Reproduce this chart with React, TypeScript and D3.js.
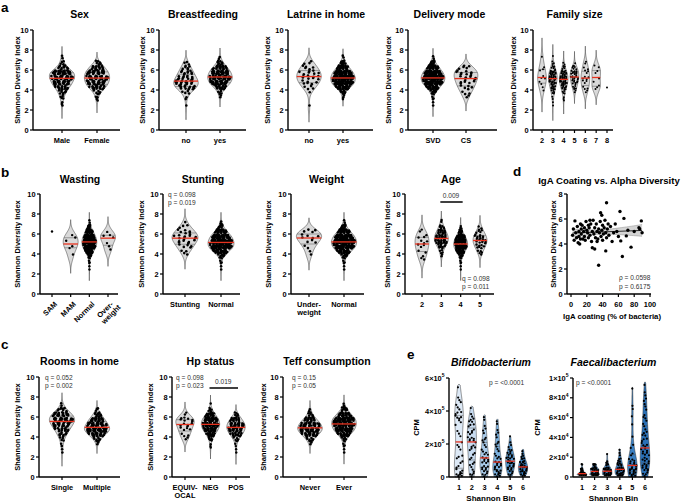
import React from "react";
import * as d3 from "d3";

const FONT = "'Liberation Sans', Arial, Helvetica, sans-serif";
const RED = "#e8321e";
const GRAY = "#d9d9d9";

// ---- diversity data: counts of samples per 0.5-wide Shannon bin, starting at 0 ----
const sexCats = ["Male", "Female"];
const sexMale = [0, 0, 0, 0, 1, 2, 4, 8, 16, 24, 28, 30, 10, 4, 2];
const sexFemale = [0, 0, 0, 0, 0, 1, 3, 6, 18, 24, 26, 24, 16, 6];

const bfCats = ["no", "yes"];
const bfNo = [0, 0, 0, 0, 1, 0, 2, 4, 14, 16, 12, 9, 6, 3];
const bfYes = [0, 0, 0, 0, 0, 0, 2, 5, 16, 30, 34, 30, 20, 8, 2];

const latCats = ["no", "yes"];
const latNo = [0, 0, 0, 0, 1, 0, 0, 1, 4, 6, 8, 7, 5, 3];
const latYes = [0, 0, 0, 0, 0, 0, 3, 8, 28, 46, 48, 40, 24, 10, 2];

const delCats = ["SVD", "CS"];
const delSVD = [0, 0, 0, 0, 1, 1, 3, 8, 26, 44, 48, 40, 24, 9, 2];
const delCS = [0, 0, 0, 0, 0, 0, 2, 3, 5, 6, 7, 8, 5];

const famCats = ["2", "3", "4", "5", "6", "7", "8"];
const fam2 = [0, 0, 0, 0, 0, 0, 0, 1, 1, 2, 3, 1, 2, 0, 1];
const fam3 = [0, 0, 0, 0, 1, 1, 2, 5, 10, 12, 16, 14, 6, 3, 1];
const fam4 = [0, 0, 0, 0, 0, 1, 2, 4, 10, 14, 16, 12, 5, 2];
const fam5 = [0, 0, 0, 0, 0, 0, 0, 2, 5, 8, 10, 10, 6, 1];
const fam6 = [0, 0, 0, 0, 0, 0, 0, 2, 3, 3, 4, 3, 2, 2];
const fam7 = [0, 0, 0, 0, 0, 0, 0, 0, 3, 1, 1, 2, 2];
const fam8 = [0, 0, 0, 0, 0, 0, 0, 0, 1];

const wasCats = [["SAM"], ["MAM"], ["Normal"], ["Over-", "weight"]];
const wasSAM = [0, 0, 0, 0, 0, 0, 0, 0, 0, 0, 0, 0, 1];
const wasMAM = [0, 0, 0, 0, 0, 0, 0, 1, 0, 2, 1, 2];
const wasNormal = [0, 0, 0, 0, 1, 1, 3, 8, 26, 44, 48, 40, 24, 9, 2];
const wasOver = [0, 0, 0, 0, 0, 0, 0, 0, 1, 1, 1, 3, 1];

const stuCats = ["Stunting", "Normal"];
const stuStunting = [0, 0, 0, 0, 0, 0, 0, 1, 3, 5, 7, 9, 6, 3, 1];
const stuNormal = [0, 0, 0, 0, 1, 1, 3, 8, 28, 46, 46, 38, 22, 8, 2];

const wtCats = [["Under-", "weight"], ["Normal"]];
const wtUnder = [0, 0, 0, 0, 0, 0, 0, 1, 1, 2, 3, 5, 4];
const wtNormal = [0, 0, 0, 0, 1, 1, 3, 8, 26, 44, 48, 40, 24, 9, 2];

const ageCats = ["2", "3", "4", "5"];
const age2 = [0, 0, 0, 0, 0, 0, 1, 2, 2, 3, 3, 3, 2];
const age3 = [0, 0, 0, 0, 0, 0, 0, 2, 4, 10, 18, 18, 12, 6, 2];
const age4 = [0, 0, 0, 0, 1, 1, 3, 8, 24, 40, 38, 26, 10, 3];
const age5 = [0, 0, 0, 0, 0, 0, 0, 1, 4, 7, 10, 9, 5, 2];

const roomCats = ["Single", "Multiple"];
const roomSingle = [0, 0, 0, 0, 1, 1, 2, 4, 8, 14, 20, 26, 20, 8, 2];
const roomMultiple = [0, 0, 0, 0, 0, 0, 2, 8, 22, 34, 28, 20, 10, 3];

const hpCats = [["EQUIV-", "OCAL"], ["NEG"], ["POS"]];
const hpEquiv = [0, 0, 0, 0, 0, 0, 0, 2, 3, 4, 5, 7, 2];
const hpNeg = [0, 0, 0, 0, 0, 1, 2, 6, 16, 30, 36, 32, 18, 6, 1];
const hpPos = [0, 0, 0, 0, 1, 1, 2, 6, 16, 24, 24, 16, 6];

const teffCats = ["Never", "Ever"];
const teffNever = [0, 0, 0, 0, 0, 0, 2, 8, 20, 30, 26, 16, 6, 2];
const teffEver = [0, 0, 0, 0, 1, 1, 3, 6, 20, 36, 40, 40, 24, 10, 2];

// ---- panel e: counts per CPM bin (Bifidobacterium 25k wide, Faecalibacterium 5k wide) ----
const binCats = ["1", "2", "3", "4", "5", "6"];
const bifido1 = [7, 3, 2, 2, 2, 1, 1, 2, 1, 1, 1, 1, 1, 2, 4, 3, 2, 1, 2, 1, 0, 1];
const bifido2 = [4, 2, 2, 2, 2, 2, 2, 3, 3, 4, 3, 2, 3, 3, 2, 1, 1];
const bifido3 = [4, 4, 4, 4, 4, 3, 2, 2, 2, 2, 1, 2, 1, 1, 1];
const bifido4 = [6, 5, 5, 4, 3, 2, 2, 2, 2, 1, 2, 1, 1, 1];
const bifido5 = [4, 4, 5, 6, 6, 4, 3, 2, 1, 1];
const bifido6 = [6, 7, 8, 6, 3, 2, 1];
const faecali1 = [22, 6, 2];
const faecali2 = [14, 12, 5];
const faecali3 = [14, 12, 4, 1, 1];
const faecali4 = [12, 12, 6, 4, 2, 1];
const faecali5 = [8, 8, 6, 4, 2, 1, 1, 0, 1, 0, 1, 0, 1, 1, 1, 0, 0, 1];
const faecali6 = [4, 5, 5, 5, 4, 4, 4, 3, 3, 2, 2, 2, 2, 1, 2, 2, 1, 1, 1];
const bifidoFills = ["#dde9f6", "#c7dbf0", "#a9cbea", "#7cb2e0", "#5b9cd4", "#3f87c8"];
const faecaliFills = ["#4a8fcf", "#4a8fcf", "#468bcc", "#3f86c8", "#3a80c3", "#2a70b6"];

// ---- panel d: IgA coating vs Shannon ----
const igaCoating = [2, 3, 4, 5, 6, 7, 8, 9, 10, 10, 11, 12, 13, 13, 14, 15, 16, 17, 17, 18, 19, 20, 21, 22, 22, 23, 24, 25, 26, 27, 27, 28, 29, 30, 30, 31, 32, 33, 34, 35, 35, 36, 37, 37.5, 38, 39, 39, 40, 40, 41, 42, 43, 44, 44, 45, 46, 47, 48, 50, 52, 54, 56, 58, 60, 62, 63, 65, 67, 70, 72, 76, 80, 86, 87, 89, 90, 12, 24, 33, 45];
const igaShannon = [4.7, 5.2, 4.3, 5.85, 4.9, 4.5, 5.4, 4.1, 4.6, 5.0, 4.0, 5.6, 5.2, 4.8, 5.5, 4.4, 5.0, 5.3, 4.6, 4.3, 5.8, 5.1, 4.9, 5.5, 4.5, 5.3, 4.7, 5.6, 4.2, 3.7, 5.0, 5.9, 4.8, 3.6, 5.3, 4.5, 5.6, 5.0, 4.4, 2.3, 5.2, 4.9, 5.8, 6.5, 4.6, 6.3, 5.1, 4.3, 5.5, 4.8, 5.3, 5.9, 3.45, 4.9, 7.3, 5.2, 5.6, 4.7, 5.4, 4.2, 4.9, 5.6, 5.0, 4.6, 6.6, 4.25, 3.0, 6.05, 4.65, 5.1, 3.75, 5.0, 5.3, 5.2, 5.85, 4.9, 4.4, 5.9, 4.2, 4.5];

// violin outline from a gaussian KDE over the binned counts
function geom(counts: number[], binW: number, ext: number, yMax: number) {
  const n = d3.sum(counts);
  const mids = counts.map((_, i) => (i + 0.5) * binW);
  const mean = d3.sum(counts, (c, i) => c * mids[i]) / n;
  const sd = Math.sqrt(d3.sum(counts, (c, i) => c * (mids[i] - mean) ** 2) / Math.max(1, n - 1));
  const bw = 1.06 * sd * Math.pow(n, -0.2);
  const used = counts.map((c, i) => (c > 0 ? i : -1)).filter((i) => i >= 0);
  const lo = Math.max(0, mids[used[0]] - ext * bw);
  const hi = Math.min(yMax, mids[used[used.length - 1]] + ext * bw);
  const dens = (v: number) => d3.sum(counts, (c, i) => c * Math.exp(-0.5 * ((v - mids[i]) / bw) ** 2));
  const grid = d3.range(81).map((k) => lo + ((hi - lo) * k) / 80);
  const dmax = d3.max(grid, dens) || 1;
  const width = (v: number) => (n < 2 || v < lo || v > hi ? 0 : dens(v) / dmax);
  const outline = grid.map((v, k) => [v, (k === 0 && lo > 0) || (k === 80 && hi < yMax) ? 0 : width(v)]);
  return { n, lo, hi, width, outline };
}

function quant(counts: number[], p: number, binW: number) {
  const t = p * d3.sum(counts);
  let cum = 0;
  for (let i = 0; i < counts.length; i++) {
    if (counts[i] > 0 && cum + counts[i] >= t) return (i + (t - cum) / counts[i]) * binW;
    cum += counts[i];
  }
  return 0;
}

const sci = (v: number) => {
  if (v === 0) return "0";
  const e = Math.floor(Math.log10(v) + 1e-9);
  const m = Math.round(v / 10 ** e);
  return (
    <>
      <tspan>{m}×10</tspan>
      <tspan dy={-3.2} fontSize={5}>{e}</tspan>
    </>
  );
};

function ViolinPlot({ c }: any) {
  const y = d3.scaleLinear().domain([0, c.yMax]).range([c.yBottom, c.yTop]);
  const x = d3.scalePoint<number>().domain(d3.range(c.groups.length)).range([c.cat0, c.cat1]);
  const hw = x.step() * c.hwFrac;
  const area = d3.area<number[]>().y((d) => y(d[0]));
  const fmt = c.tickFmt || ((v: number) => String(v));
  return (
    <g>
      <text x={(c.cat0 + c.cat1) / 2} y={c.titleY} textAnchor="middle" fontWeight="bold" fontSize={10.5} fontStyle={c.italic ? "italic" : "normal"}>
        {c.title}
      </text>
      {c.groups.map((counts: number[], gi: number) => {
        const cx = x(gi)!;
        const g = geom(counts, c.binW, c.ext, c.yMax);
        const fill = c.fills ? c.fills[gi] : GRAY;
        const dots: number[][] = [];
        let k = 0;
        counts.forEach((cnt, i) => {
          for (let j = 0; j < cnt; j++) {
            k++;
            if (g.n === 1) {
              dots.push([cx, y((i + 0.5) * c.binW)]);
              continue;
            }
            const u = (k * 0.7548776662 + 0.13) % 1;
            const v = (k * 0.569840291 + 0.41) % 1;
            const val = Math.min(Math.max((i + 0.08 + 0.84 * v) * c.binW, g.lo), g.hi);
            const w = g.width(val) * hw * 0.86;
            dots.push([cx + (2 * u - 1) * w, y(val)]);
          }
        });
        area.x0((d) => cx - d[1] * hw).x1((d) => cx + d[1] * hw);
        const med = quant(counts, 0.5, c.binW);
        const q1 = quant(counts, 0.25, c.binW);
        const q3 = quant(counts, 0.75, c.binW);
        return (
          <g key={gi}>
            {g.n > 1 && <path d={area(g.outline) || ""} fill={fill} stroke="#333" strokeWidth={0.5} />}
            {g.n > 1 &&
              [q1, q3].map((q, qi) => (
                <line key={qi} x1={cx - g.width(q) * hw} x2={cx + g.width(q) * hw} y1={y(q)} y2={y(q)} stroke="#555" strokeWidth={0.5} />
              ))}
            {dots.map((d, di) => (
              <circle key={di} cx={d[0]} cy={d[1]} r={c.r} fill="#000" />
            ))}
            {g.n > 1 && (
              <line x1={cx - g.width(med) * hw} x2={cx + g.width(med) * hw} y1={y(med)} y2={y(med)} stroke={RED} strokeWidth={1.3} />
            )}
          </g>
        );
      })}
      {/* axes */}
      <line x1={c.axisX} x2={c.axisX} y1={c.yTop} y2={c.yBottom} stroke="#000" strokeWidth={1.4} />
      <line x1={c.axisX} x2={c.axisEnd} y1={c.yBottom} y2={c.yBottom} stroke="#000" strokeWidth={1.4} />
      {c.ticks.map((t: number) => (
        <g key={t}>
          <line x1={c.axisX - 3} x2={c.axisX} y1={y(t)} y2={y(t)} stroke="#000" strokeWidth={1.2} />
          <text x={c.axisX - 4.5} y={y(t)} dy="0.35em" textAnchor="end" fontSize={7.4} fontWeight="bold">
            {fmt(t)}
          </text>
        </g>
      ))}
      {c.labels.map((lab: any, i: number) => {
        const lines = Array.isArray(lab) ? lab : [lab];
        const cx = x(i)!;
        return (
          <g key={i}>
            <line x1={cx} x2={cx} y1={c.yBottom} y2={c.yBottom + 3} stroke="#000" strokeWidth={1.2} />
            {c.rotate ? (
              <text transform={`translate(${cx + 2},${c.yBottom + 7}) rotate(-45)`} textAnchor="end" fontSize={7.4} fontWeight="bold">
                {lines.map((l: string, li: number) => (
                  <tspan key={li} x={li * 3} dy={li === 0 ? "0.7em" : 7.5}>
                    {l}
                  </tspan>
                ))}
              </text>
            ) : (
              lines.map((l: string, li: number) => (
                <text key={li} x={cx} y={c.yBottom + 12.5 + li * 8} textAnchor="middle" fontSize={7.4} fontWeight="bold">
                  {l}
                </text>
              ))
            )}
          </g>
        );
      })}
      <text transform={`translate(${c.ylabelX},${(c.yTop + c.yBottom) / 2}) rotate(-90)`} textAnchor="middle" dy="0.35em" fontSize={7.5} fontWeight="bold">
        {c.ylabel}
      </text>
      {c.xlabel && (
        <text x={(c.cat0 + c.cat1) / 2} y={c.yBottom + 23.5} textAnchor="middle" fontSize={8} fontWeight="bold">
          {c.xlabel}
        </text>
      )}
      {(c.notes || []).map((nt: any, i: number) => (
        <text key={i} x={nt.x} y={nt.y} fontSize={6.6} fill="#333">
          {nt.text}
        </text>
      ))}
      {c.bracket && (
        <g>
          <line x1={x(c.bracket.a)! - 1} x2={x(c.bracket.b)! + 2} y1={c.bracket.y} y2={c.bracket.y} stroke="#000" strokeWidth={1.5} />
          <text x={(x(c.bracket.a)! + x(c.bracket.b)!) / 2} y={c.bracket.y - 4} textAnchor="middle" fontSize={6.6} fill="#333">
            {c.bracket.text}
          </text>
        </g>
      )}
    </g>
  );
}

function IgaPlot() {
  const x = d3.scaleLinear().domain([0, 100]).range([571, 650]);
  const y = d3.scaleLinear().domain([0, 8]).range([294, 194]);
  const n = igaCoating.length;
  const mx = d3.mean(igaCoating)!;
  const my = d3.mean(igaShannon)!;
  const sxx = d3.sum(igaCoating, (v) => (v - mx) ** 2);
  const sxy = d3.sum(igaCoating, (v, i) => (v - mx) * (igaShannon[i] - my));
  const b = sxy / sxx;
  const a = my - b * mx;
  const s = Math.sqrt(d3.sum(igaCoating, (v, i) => (igaShannon[i] - (a + b * v)) ** 2) / (n - 2));
  const [x0, x1] = d3.extent(igaCoating) as [number, number];
  const xs = d3.range(0, 41).map((k) => x0 + ((x1 - x0) * k) / 40);
  const ci = (v: number) => 1.99 * s * Math.sqrt(1 / n + (v - mx) ** 2 / sxx);
  const band = d3
    .area<number>()
    .x((v) => x(v))
    .y0((v) => y(a + b * v - ci(v)))
    .y1((v) => y(a + b * v + ci(v)));
  const edge = (sg: number) =>
    d3
      .line<number>()
      .x((v) => x(v))
      .y((v) => y(a + b * v + sg * ci(v)))(xs) || "";
  return (
    <g>
      <text x={609} y={184} textAnchor="middle" fontSize={9.6} fontWeight="bold">
        IgA Coating vs. Alpha Diversity
      </text>
      <path d={band(xs) || ""} fill="#d4d4d4" />
      <path d={edge(1)} fill="none" stroke="#888" strokeWidth={0.5} />
      <path d={edge(-1)} fill="none" stroke="#888" strokeWidth={0.5} />
      <line x1={x(x0)} x2={x(x1)} y1={y(a + b * x0)} y2={y(a + b * x1)} stroke="#000" strokeWidth={0.8} />
      {igaCoating.map((v, i) => (
        <circle key={i} cx={x(v)} cy={y(igaShannon[i])} r={1.7} fill="#000" />
      ))}
      <line x1={567} x2={567} y1={194} y2={294} stroke="#000" strokeWidth={1.4} />
      <line x1={567} x2={651} y1={294} y2={294} stroke="#000" strokeWidth={1.4} />
      {[0, 2, 4, 6, 8].map((t) => (
        <g key={t}>
          <line x1={564} x2={567} y1={y(t)} y2={y(t)} stroke="#000" strokeWidth={1.2} />
          <text x={562.5} y={y(t)} dy="0.35em" textAnchor="end" fontSize={7.4} fontWeight="bold">
            {t}
          </text>
        </g>
      ))}
      {[0, 20, 40, 60, 80, 100].map((t) => (
        <g key={t}>
          <line x1={x(t)} x2={x(t)} y1={294} y2={297} stroke="#000" strokeWidth={1.2} />
          <text x={x(t)} y={306.5} textAnchor="middle" fontSize={7.4} fontWeight="bold">
            {t}
          </text>
        </g>
      ))}
      <text x={612} y={319} textAnchor="middle" fontSize={7.8} fontWeight="bold">
        IgA coating (% of bacteria)
      </text>
      <text transform="translate(553,244) rotate(-90)" textAnchor="middle" dy="0.35em" fontSize={7.5} fontWeight="bold">
        Shannon Diversity Index
      </text>
      <text x={619} y={280} fontSize={6.6} fill="#333">ρ = 0.0598</text>
      <text x={619} y={289} fontSize={6.6} fill="#333">p = 0.6175</text>
    </g>
  );
}

const rowA = { yTop: 30, yBottom: 130, titleY: 18 };
const rowB = { yTop: 194, yBottom: 294, titleY: 183 };
const rowC = { yTop: 377, yBottom: 477, titleY: 365 };
const div = { yMax: 10, ticks: [0, 2, 4, 6, 8, 10], binW: 0.5, ext: 3, hwFrac: 0.36, r: 1.3, ylabel: "Shannon Diversity Index" };

const plots = [
  { ...div, ...rowA, title: "Sex", axisX: 33, axisEnd: 120, cat0: 62, cat1: 97, ylabelX: 17, labels: sexCats, groups: [sexMale, sexFemale] },
  { ...div, ...rowA, title: "Breastfeeding", axisX: 159, axisEnd: 246, cat0: 186, cat1: 220, ylabelX: 142, labels: bfCats, groups: [bfNo, bfYes] },
  { ...div, ...rowA, title: "Latrine in home", axisX: 288, axisEnd: 373, cat0: 309, cat1: 343, ylabelX: 267, labels: latCats, groups: [latNo, latYes] },
  { ...div, ...rowA, title: "Delivery mode", axisX: 408, axisEnd: 497, cat0: 433, cat1: 466, ylabelX: 388, labels: delCats, groups: [delSVD, delCS] },
  { ...div, ...rowA, title: "Family size", axisX: 533, axisEnd: 613, cat0: 542, cat1: 607, ylabelX: 513, labels: famCats, groups: [fam2, fam3, fam4, fam5, fam6, fam7, fam8], r: 1.0, hwFrac: 0.4 },
  { ...div, ...rowB, title: "Wasting", axisX: 40, axisEnd: 118, cat0: 52, cat1: 108, ylabelX: 17, labels: wasCats, rotate: true, groups: [wasSAM, wasMAM, wasNormal, wasOver], hwFrac: 0.4, r: 1.2 },
  {
    ...div, ...rowB, title: "Stunting", axisX: 163, axisEnd: 240, cat0: 185, cat1: 221, ylabelX: 141, labels: stuCats, groups: [stuStunting, stuNormal],
    notes: [{ x: 168, y: 197, text: "q = 0.098" }, { x: 168, y: 205, text: "p = 0.019" }],
  },
  { ...div, ...rowB, title: "Weight", axisX: 291, axisEnd: 364, cat0: 309, cat1: 344, ylabelX: 268, labels: wtCats, groups: [wtUnder, wtNormal] },
  {
    ...div, ...rowB, title: "Age", axisX: 405, axisEnd: 494, cat0: 422, cat1: 480, ylabelX: 387, labels: ageCats, groups: [age2, age3, age4, age5], r: 1.2,
    bracket: { a: 1, b: 2, y: 202, text: "0.009" },
    notes: [{ x: 462, y: 281, text: "q = 0.098" }, { x: 462, y: 289, text: "p = 0.011" }],
  },
  {
    ...div, ...rowC, title: "Rooms in home", axisX: 39, axisEnd: 120, cat0: 62, cat1: 97, ylabelX: 17, labels: roomCats, groups: [roomSingle, roomMultiple],
    notes: [{ x: 45, y: 380, text: "q = 0.052" }, { x: 45, y: 388, text: "p = 0.002" }],
  },
  {
    ...div, ...rowC, title: "Hp status", axisX: 172, axisEnd: 250, cat0: 185, cat1: 236, ylabelX: 150, labels: hpCats, groups: [hpEquiv, hpNeg, hpPos], r: 1.2,
    bracket: { a: 1, b: 2, y: 388, text: "0.019" },
    notes: [{ x: 176, y: 380, text: "q = 0.098" }, { x: 176, y: 388, text: "p = 0.023" }],
  },
  {
    ...div, ...rowC, title: "Teff consumption", axisX: 283, axisEnd: 367, cat0: 310, cat1: 344, ylabelX: 263, labels: teffCats, groups: [teffNever, teffEver],
    notes: [{ x: 292, y: 380, text: "q = 0.15" }, { x: 292, y: 388, text: "p = 0.05" }],
  },
  {
    yTop: 378, yBottom: 477, titleY: 366, title: "Bifidobacterium", italic: true, yMax: 600000, ticks: [0, 200000, 400000, 600000], tickFmt: sci,
    binW: 25000, ext: 0.3, hwFrac: 0.36, r: 1.1, axisX: 449, axisEnd: 530, cat0: 459, cat1: 523, ylabelX: 416, ylabel: "CPM", xlabel: "Shannon Bin",
    labels: binCats, groups: [bifido1, bifido2, bifido3, bifido4, bifido5, bifido6], fills: bifidoFills,
    notes: [{ x: 489, y: 385, text: "p = <0.0001" }],
  },
  {
    yTop: 378, yBottom: 477, titleY: 366, title: "Faecalibacterium", italic: true, yMax: 100000, ticks: [0, 20000, 40000, 60000, 80000, 100000], tickFmt: sci,
    binW: 5000, ext: 0.3, hwFrac: 0.38, r: 1.1, axisX: 573, axisEnd: 653, cat0: 582, cat1: 645, ylabelX: 537, ylabel: "CPM", xlabel: "Shannon Bin",
    labels: binCats, groups: [faecali1, faecali2, faecali3, faecali4, faecali5, faecali6], fills: faecaliFills,
    notes: [{ x: 576, y: 385, text: "p = <0.0001" }],
  },
];

const letters = [
  { t: "a", x: 1, y: 12 },
  { t: "b", x: 1, y: 177 },
  { t: "c", x: 1, y: 349 },
  { t: "d", x: 513, y: 176 },
  { t: "e", x: 407, y: 359 },
];

export default function App() {
  return (
    <svg width={682} height={502} fontFamily={FONT} style={{ position: "absolute", left: 0, top: 0, background: "#fff" }}>
      <rect width={682} height={502} fill="#fff" />
      {letters.map((l) => (
        <text key={l.t} x={l.x} y={l.y} fontSize={13.5} fontWeight="bold">
          {l.t}
        </text>
      ))}
      {plots.map((p) => (
        <ViolinPlot key={p.title} c={p} />
      ))}
      <IgaPlot />
    </svg>
  );
}
